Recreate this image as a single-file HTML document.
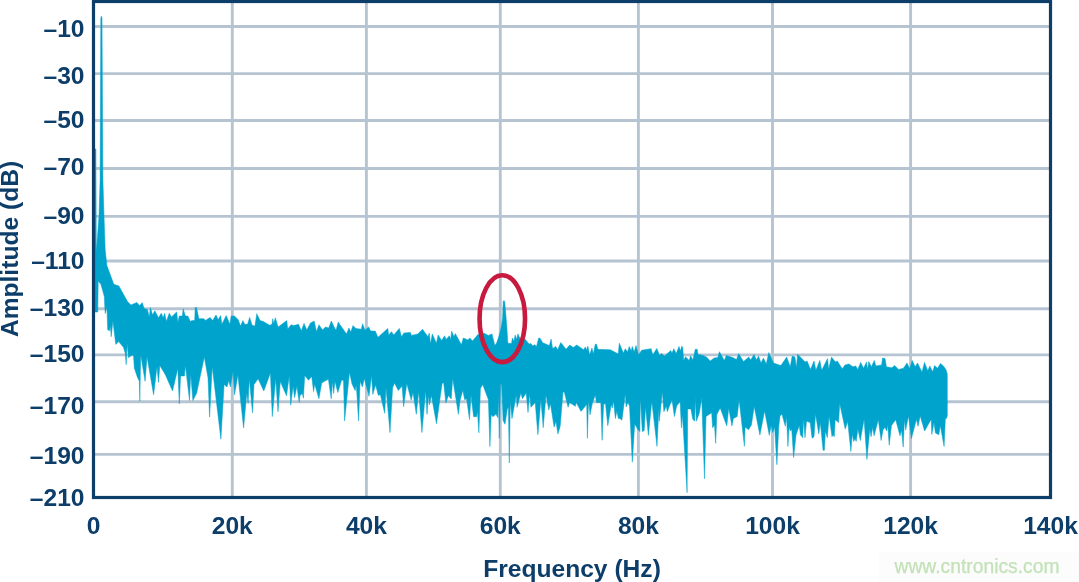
<!DOCTYPE html>
<html lang="en"><head><meta charset="utf-8"><title>FFT spectrum</title>
<style>html,body{margin:0;padding:0;background:#fff;}body{width:1079px;height:582px;overflow:hidden;}svg{display:block;}</style>
</head><body>
<svg width="1079" height="582" viewBox="0 0 1079 582">
<rect width="1079" height="582" fill="#fff"/>
<g stroke="#b6c4d2" stroke-width="2.9" fill="none">
<line x1="94" y1="26.5" x2="1050" y2="26.5"/>
<line x1="94" y1="73.6" x2="1050" y2="73.6"/>
<line x1="94" y1="120.5" x2="1050" y2="120.5"/>
<line x1="94" y1="168.5" x2="1050" y2="168.5"/>
<line x1="94" y1="216.4" x2="1050" y2="216.4"/>
<line x1="94" y1="261" x2="1050" y2="261"/>
<line x1="94" y1="308.7" x2="1050" y2="308.7"/>
<line x1="94" y1="354.9" x2="1050" y2="354.9"/>
<line x1="94" y1="401.8" x2="1050" y2="401.8"/>
<line x1="94" y1="454.4" x2="1050" y2="454.4"/>
<line x1="232.3" y1="2" x2="232.3" y2="497"/>
<line x1="366.4" y1="2" x2="366.4" y2="497"/>
<line x1="500.3" y1="2" x2="500.3" y2="497"/>
<line x1="638.4" y1="2" x2="638.4" y2="497"/>
<line x1="772.5" y1="2" x2="772.5" y2="497"/>
<line x1="910.6" y1="2" x2="910.6" y2="497"/>
</g>
<path d="M94.8,312.0 94.8,149.0 95.9,149.0 96.3,252.0 99.0,216.0 100.1,180.0 100.8,18.0 101.4,16.2 102.0,18.0 102.9,180.0 104.0,216.0 105.2,250.0 106.9,265.5 113.8,284.3 118.9,286.0 127.5,301.5 130.9,305.0 136.9,302.4 139.5,305.8 142.2,302.6 144.1,308.5 147.4,309.5 149.3,316.9 150.4,307.6 152.6,315.0 154.8,310.8 158.5,317.8 161.3,313.2 163.2,317.8 164.7,313.2 166.3,321.5 169.3,313.2 171.5,316.9 176.7,311.9 177.8,322.4 179.3,316.0 182.3,316.0 183.2,308.9 185.4,316.0 187.8,316.0 190.4,321.5 191.9,320.6 194.7,320.6 195.2,307.6 196.5,307.6 198.9,318.7 203.9,318.7 205.2,320.6 210.1,317.4 212.7,320.6 216.0,315.0 218.2,319.7 220.6,315.6 221.9,324.3 226.2,315.6 229.9,324.3 231.2,316.0 234.5,316.0 238.2,319.7 240.5,326.1 242.9,320.6 244.7,324.3 247.5,324.3 249.7,317.4 252.1,325.2 254.9,326.1 256.8,313.7 260.1,320.6 263.3,321.5 269.7,325.2 272.0,324.3 272.7,318.7 273.8,323.4 275.3,317.8 278.1,327.1 286.8,320.6 287.7,328.9 291.1,324.8 293.8,325.6 298.5,324.3 301.3,330.8 304.0,323.4 306.8,329.9 310.5,323.0 314.2,321.1 316.5,331.7 318.9,324.8 322.6,329.9 325.4,327.1 328.7,328.0 331.3,321.1 334.6,328.0 336.1,329.9 338.3,321.9 340.0,324.7 346.5,333.9 348.9,328.0 350.8,332.1 353.0,325.6 355.8,328.4 361.3,329.3 362.6,323.7 365.0,330.2 368.7,326.9 370.6,331.1 375.2,331.1 378.0,337.3 387.8,328.4 388.6,334.9 391.5,331.7 393.8,334.9 399.3,328.4 401.5,336.7 403.9,333.0 410.4,332.4 411.4,335.4 417.8,333.9 422.5,329.3 428.0,336.7 429.3,333.0 430.5,344.1 432.3,333.9 436.4,343.2 438.2,334.9 441.6,340.4 444.7,335.8 446.0,339.5 449.4,335.8 450.8,339.5 451.6,331.1 454.0,336.7 455.3,333.6 461.4,344.7 463.3,338.0 467.9,339.9 469.8,338.0 472.5,341.0 478.1,334.3 480.9,336.7 483.6,333.0 488.3,335.4 492.0,333.9 494.8,345.4 496.5,343.3 498.5,337.6 500.6,330.0 501.8,324.0 502.6,318.0 503.0,308.0 503.2,301.5 503.9,300.6 504.7,301.5 505.6,312.0 506.1,318.0 506.9,328.0 507.5,337.6 507.9,343.3 511.5,343.6 512.4,338.0 513.9,341.3 515.2,334.9 516.5,339.5 517.9,333.9 520.2,339.1 525.4,339.5 529.1,344.1 530.9,343.6 532.8,346.0 534.6,344.7 536.5,346.5 538.7,338.0 540.0,338.2 542.8,342.8 549.3,345.6 551.1,339.1 552.6,348.4 555.8,346.5 557.6,349.8 560.8,342.4 566.0,349.3 569.7,345.0 573.4,347.4 576.7,345.0 583.6,349.8 585.4,346.9 586.7,350.2 587.8,346.1 589.7,354.9 591.9,348.0 593.4,353.9 595.2,344.3 596.5,344.3 597.8,349.3 610.4,349.8 618.2,353.9 619.3,343.2 623.4,353.0 625.3,348.7 627.5,352.1 629.3,346.5 631.2,351.1 632.3,346.5 634.2,352.1 636.0,345.6 638.6,354.9 641.6,350.2 651.2,348.7 652.7,354.9 656.8,348.4 659.6,355.4 661.4,353.6 664.6,356.1 670.7,350.6 672.0,353.0 673.8,348.7 676.2,353.6 679.0,346.5 680.5,351.1 681.8,346.1 682.7,347.4 683.7,360.4 685.5,356.7 689.2,360.4 690.5,355.8 692.9,359.9 695.3,349.3 697.2,349.3 697.9,354.3 703.1,355.4 706.8,357.3 710.2,361.0 714.2,358.0 717.9,357.6 719.4,351.7 724.4,360.4 726.3,355.4 732.8,357.6 736.5,359.5 738.7,353.6 740.0,355.8 743.5,361.6 748.8,357.1 750.7,360.0 754.0,354.6 756.5,360.0 758.5,356.1 761.0,363.0 763.4,358.1 766.3,363.9 768.8,352.6 773.5,363.0 780.9,365.5 786.7,357.1 790.2,366.8 792.2,356.1 794.9,357.1 796.4,367.8 797.6,354.2 805.2,362.0 807.1,361.0 810.5,369.4 814.0,361.0 815.9,370.2 819.8,360.4 821.7,370.2 827.6,358.5 828.6,369.4 831.5,357.1 835.4,362.0 837.3,361.0 842.2,368.8 845.1,364.9 849.0,363.9 852.9,366.8 855.8,365.9 857.7,369.4 860.7,362.4 863.6,368.2 866.5,362.0 867.5,369.8 868.8,361.6 871.4,366.8 874.3,360.4 875.9,365.9 881.7,364.9 882.5,358.1 885.0,358.5 886.4,366.8 891.8,367.8 894.7,365.5 898.6,369.4 903.5,368.2 907.0,363.0 909.7,368.8 912.2,360.4 915.2,366.8 917.5,363.0 922.0,372.1 924.5,362.4 927.8,370.7 929.8,365.9 932.7,371.7 934.6,365.5 937.5,368.2 940.5,363.5 943.4,365.9 945.9,369.5 947.3,374.0 947.3,416.0 946.3,418.8 945.4,417.8 944.1,446.5 940.3,425.4 938.8,434.8 935.4,432.9 934.0,422.5 931.8,434.4 931.2,419.3 924.6,431.0 920.2,415.9 918.0,426.3 916.5,419.3 911.4,438.6 908.5,415.9 905.7,430.1 904.4,419.7 903.2,447.1 901.5,430.1 900.0,435.8 895.7,419.7 891.5,425.4 889.2,445.2 887.7,424.4 886.8,431.0 884.9,427.3 883.0,430.1 881.1,440.5 878.3,419.7 874.1,435.8 872.6,427.3 871.1,436.7 869.8,429.1 866.9,459.4 864.1,419.3 860.3,440.5 857.9,429.1 856.2,441.4 855.0,438.6 853.7,441.4 852.2,433.9 850.9,451.5 847.7,421.6 845.2,429.1 839.7,403.6 838.6,422.5 835.2,419.7 834.3,436.7 832.9,434.8 832.0,436.7 829.1,415.9 827.3,437.7 825.4,431.0 824.4,450.3 823.1,450.3 820.3,422.5 818.8,433.9 815.5,414.0 814.0,436.7 812.1,438.2 810.2,422.5 806.5,421.2 805.0,437.7 803.6,418.8 802.7,437.7 800.4,434.8 799.3,425.4 796.1,434.8 793.6,457.5 791.7,429.1 790.4,431.0 789.1,427.3 787.9,446.5 786.6,416.9 785.3,426.3 781.9,414.0 780.0,415.9 778.8,425.9 776.9,464.7 774.6,426.9 772.7,432.5 771.2,425.0 769.3,435.4 764.6,410.8 759.9,435.0 754.2,406.6 751.4,425.0 748.5,429.7 745.1,426.9 744.4,446.3 739.1,399.5 737.2,416.5 733.4,418.4 731.9,425.9 728.7,408.0 726.8,425.9 720.2,408.0 716.8,414.6 715.7,443.3 714.5,425.0 712.6,427.8 711.7,412.7 706.0,416.5 704.5,478.8 701.7,397.6 699.4,412.7 696.4,421.2 695.2,397.6 694.7,421.2 692.8,419.3 690.9,408.9 687.7,408.9 687.1,492.6 682.4,414.6 681.4,427.8 680.1,401.3 676.7,406.0 674.4,416.5 672.0,399.5 667.3,411.7 666.3,406.0 663.9,411.7 662.3,392.0 659.3,421.2 658.8,408.9 657.0,446.3 651.8,401.3 648.4,435.4 645.5,407.0 644.2,430.6 642.3,431.6 640.4,397.6 639.8,431.6 638.0,429.7 634.7,424.0 632.3,462.2 629.5,406.0 627.9,402.3 626.2,407.0 625.3,393.8 623.4,408.9 621.9,420.2 620.0,418.4 618.4,418.6 616.9,411.0 615.4,418.6 613.5,400.6 612.3,408.2 611.2,404.4 607.8,425.8 605.5,403.5 603.6,404.4 602.1,440.3 600.8,402.5 596.5,402.5 595.3,395.0 592.3,403.5 590.0,414.8 588.5,399.7 587.4,438.4 586.7,404.4 581.0,411.4 576.3,402.5 575.3,406.3 569.6,402.5 568.1,407.3 564.3,392.0 563.0,392.0 560.2,426.2 557.9,434.1 556.0,421.4 554.1,427.1 550.4,403.5 548.8,410.0 546.0,395.0 543.2,427.7 540.9,399.3 537.9,434.7 535.2,402.5 530.9,407.3 529.6,394.0 528.0,412.5 526.2,393.0 522.4,398.8 520.9,393.0 517.1,407.3 516.3,395.0 512.0,418.6 510.3,401.6 509.3,463.0 508.4,407.3 507.3,409.1 505.0,424.3 503.1,420.5 501.6,384.6 500.5,384.6 499.3,438.4 498.4,395.0 497.8,417.7 495.9,413.9 493.1,416.7 491.2,414.8 489.9,446.6 488.4,399.7 482.7,384.6 480.4,388.4 478.9,432.8 477.4,411.0 476.6,416.7 473.6,416.7 471.0,395.0 469.5,419.5 466.6,398.8 464.7,399.7 462.8,390.2 460.0,400.6 458.4,414.3 452.7,378.4 451.2,399.0 448.4,395.4 445.9,403.0 443.7,383.0 442.2,383.0 440.3,396.3 436.5,423.7 431.4,395.4 429.5,404.8 428.5,395.4 427.0,414.3 425.7,390.6 421.9,432.6 418.7,391.6 416.3,414.3 413.0,392.5 411.2,400.0 406.8,383.6 403.6,406.7 402.1,386.0 398.3,390.6 394.5,383.0 392.6,387.8 390.0,432.6 386.0,387.8 384.7,413.3 380.3,394.4 378.4,395.4 375.6,385.0 372.8,394.4 371.5,375.5 369.0,396.3 364.3,378.4 362.4,386.9 360.1,381.2 358.6,420.9 356.3,385.0 355.2,390.6 352.0,384.0 349.5,372.3 344.6,420.9 343.5,380.2 341.6,380.2 337.8,392.5 335.0,381.2 333.6,393.5 332.5,381.2 331.2,398.8 328.4,379.3 324.6,381.2 321.7,383.0 318.9,398.8 314.7,384.0 313.6,391.6 311.7,376.5 308.5,380.2 304.7,375.5 303.4,398.2 302.3,393.5 300.0,395.4 299.2,402.4 296.9,386.3 294.6,397.7 293.1,386.3 290.7,405.2 289.3,376.0 286.5,395.8 280.3,381.6 278.0,411.8 275.7,378.8 272.3,416.6 270.4,373.0 263.8,391.0 258.1,378.8 254.0,384.4 252.5,412.8 249.3,378.8 248.1,403.3 246.8,393.0 243.6,427.9 237.9,375.0 234.5,394.8 233.0,371.0 230.4,387.0 228.8,380.6 227.0,387.0 224.1,384.4 220.9,439.2 212.2,366.5 209.6,417.0 208.0,377.8 204.3,357.0 196.7,393.0 192.9,400.5 190.7,374.0 189.5,400.5 185.4,365.5 184.4,376.0 180.6,376.0 179.3,403.9 177.8,368.4 172.5,391.0 165.5,375.0 159.8,365.5 158.5,382.5 157.0,366.5 153.6,394.8 147.0,356.7 145.1,381.3 140.7,354.8 139.8,401.1 139.3,381.0 137.5,377.5 134.3,368.0 133.5,355.0 130.9,355.8 128.5,357.7 127.1,343.5 126.2,364.7 125.2,352.9 123.4,347.3 118.6,341.6 115.8,344.4 112.9,321.0 111.2,336.7 110.3,325.5 109.5,330.7 107.7,329.8 106.9,306.7 105.2,313.5 104.8,306.7 104.3,296.4 100.9,284.3 98.2,281.0 97.8,312.0 94.8,312.0Z" fill="#00a3cb" stroke="#00a3cb" stroke-width="0.5" stroke-linejoin="round"/>
<rect x="93.5" y="1.5" width="957" height="496" fill="none" stroke="#0d3e6a" stroke-width="3.2"/>
<ellipse cx="502.3" cy="318.7" rx="22.75" ry="43.4" fill="none" stroke="#c8193f" stroke-width="4.6"/>
<g font-family="'Liberation Sans', sans-serif" font-weight="bold" font-size="24.6" fill="#0d3e6a">
<text x="84.5" y="36.5" text-anchor="end">–10</text>
<text x="84.5" y="83.8" text-anchor="end">–30</text>
<text x="84.5" y="127.8" text-anchor="end">–50</text>
<text x="84.5" y="175.3" text-anchor="end">–70</text>
<text x="84.5" y="223.8" text-anchor="end">–90</text>
<text x="84.5" y="268.8" text-anchor="end">–110</text>
<text x="84.5" y="315.8" text-anchor="end">–130</text>
<text x="84.5" y="361.8" text-anchor="end">–150</text>
<text x="84.5" y="413.8" text-anchor="end">–170</text>
<text x="84.5" y="463.8" text-anchor="end">–190</text>
<text x="84.5" y="505.8" text-anchor="end">–210</text>
<text x="93.5" y="534" text-anchor="middle">0</text>
<text x="232.3" y="534" text-anchor="middle">20k</text>
<text x="366.4" y="534" text-anchor="middle">40k</text>
<text x="500.3" y="534" text-anchor="middle">60k</text>
<text x="638.4" y="534" text-anchor="middle">80k</text>
<text x="772.5" y="534" text-anchor="middle">100k</text>
<text x="910.6" y="534" text-anchor="middle">120k</text>
<text x="1050.5" y="534" text-anchor="middle">140k</text>
<text x="572" y="576.5" text-anchor="middle">Frequency (Hz)</text>
<text transform="translate(17.8,249) rotate(-90)" text-anchor="middle">Amplitude (dB)</text>
</g>
<rect x="879" y="552" width="200" height="30" fill="#fcfcfc"/>
<text x="977" y="572.5" text-anchor="middle" font-family="'Liberation Sans', sans-serif" font-size="19.3" fill="#c3e2b8" stroke="#c3e2b8" stroke-width="0.25">www.cntronics.com</text>
</svg>
</body></html>
